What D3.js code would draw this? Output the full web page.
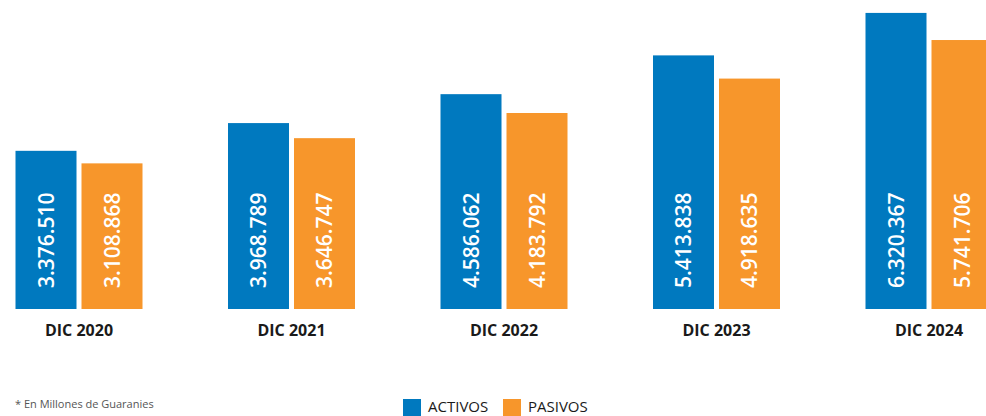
<!DOCTYPE html>
<html>
<head>
<meta charset="utf-8">
<script src="https://cdn.jsdelivr.net/npm/d3@7"></script>
<style>
  html, body { margin: 0; padding: 0; background: #fff; }
  svg { display: block; }
</style>
</head>
<body>
<svg id="chart" width="986" height="416"></svg>
<script>
const categories = ["DIC 2020", "DIC 2021", "DIC 2022", "DIC 2023", "DIC 2024"];
const seriesNames = ["ACTIVOS", "PASIVOS"];
const activos = [3376510, 3968789, 4586062, 5413838, 6320367];
const pasivos = [3108868, 3646747, 4183792, 4918635, 5741706];
const note = "* En Millones de Guaranies";

const colors = { ACTIVOS: "#0079BF", PASIVOS: "#F7962B" };
const font = "'Open Sans', 'DejaVu Sans', sans-serif";

const svg = d3.select("#chart");
const baseY = 309;

const x0 = d3.scaleBand().domain(categories).range([15.5, 15.5 + 4 * 212.5 + 127])
  .paddingInner((212.5 - 127) / 212.5).paddingOuter(0);
const x1 = d3.scaleBand().domain(seriesNames).range([0, x0.bandwidth()])
  .paddingInner(5 / 66).paddingOuter(0);
const y = d3.scaleLinear().domain([0, 6340000]).range([baseY, 12]);

const fmt = v => d3.format(",")(v).replace(/,/g, ".");

const data = categories.map((c, i) => ({
  cat: c,
  vals: [
    { key: "ACTIVOS", value: activos[i] },
    { key: "PASIVOS", value: pasivos[i] }
  ]
}));

const groups = svg.append("g").selectAll("g").data(data).join("g")
  .attr("transform", d => `translate(${x0(d.cat)},0)`);

groups.selectAll("rect").data(d => d.vals).join("rect")
  .attr("x", d => x1(d.key))
  .attr("y", d => y(d.value))
  .attr("width", x1.bandwidth())
  .attr("height", d => y(0) - y(d.value))
  .attr("fill", d => colors[d.key]);

groups.selectAll("text.val").data(d => d.vals).join("text")
  .attr("class", "val")
  .attr("transform", d => `translate(${x1(d.key) + x1.bandwidth() / 2},${y(0) - 21}) rotate(-90)`)
  .attr("dy", "0.36em")
  .attr("text-anchor", "start")
  .attr("fill", "#fff")
  .style("font-family", font)
  .style("font-size", "21px")
  .style("font-weight", 600)
  .text(d => fmt(d.value));

// category axis labels
const xAxis = d3.axisBottom(x0).tickSize(0).tickPadding(0);
const axisG = svg.append("g").attr("transform", `translate(0,${baseY})`).call(xAxis);
axisG.select(".domain").remove();
axisG.selectAll("text")
  .attr("y", 27)
  .attr("dy", "0")
  .attr("fill", "#1a1a1a")
  .style("font-family", font)
  .style("font-size", "16px")
  .style("font-weight", 700);

// note
svg.append("text")
  .attr("x", 15).attr("y", 408)
  .attr("fill", "#555")
  .style("font-family", font)
  .style("font-size", "11px")
  .text(note);

// legend
const legendItems = [
  { key: "ACTIVOS", x: 403, tx: 428 },
  { key: "PASIVOS", x: 503, tx: 528 }
];
const lg = svg.append("g");
lg.selectAll("rect").data(legendItems).join("rect")
  .attr("x", d => d.x).attr("y", 399)
  .attr("width", 18).attr("height", 18)
  .attr("fill", d => colors[d.key]);
lg.selectAll("text").data(legendItems).join("text")
  .attr("x", d => d.tx).attr("y", 412)
  .attr("fill", "#1a1a1a")
  .style("font-family", font)
  .style("font-size", "15px")
  .text(d => d.key);
</script>
</body>
</html>
